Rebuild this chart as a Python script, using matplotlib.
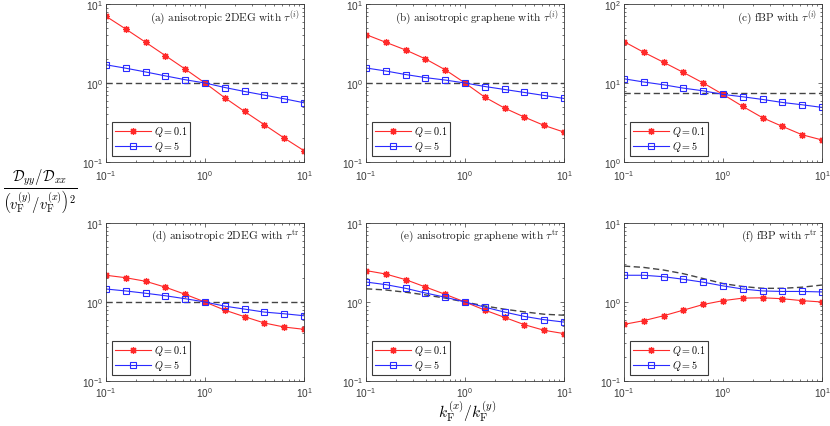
import numpy as np
import matplotlib
matplotlib.use('Agg')
from matplotlib import pyplot as plt
from matplotlib.ticker import LogLocator, NullFormatter

plt.rcParams['font.family'] = 'Liberation Sans'
plt.rcParams['mathtext.fontset'] = 'custom'
plt.rcParams['mathtext.rm'] = 'Liberation Sans'
plt.rcParams['mathtext.it'] = 'Liberation Sans:italic'
plt.rcParams['mathtext.bf'] = 'Liberation Sans:bold'

# k_F^(x)/k_F^(y) grid
k_ratio = [0.1, 0.158, 0.251, 0.398, 0.631, 1.0, 1.585, 2.512, 3.981, 6.310, 10.0]

# (a) anisotropic 2DEG, tau^(i)
a_q01 = [6.99, 4.83, 3.28, 2.22, 1.50, 1.0, 0.65, 0.436, 0.296, 0.201, 0.139]
a_q5 = [1.70, 1.54, 1.38, 1.23, 1.10, 1.0, 0.877, 0.781, 0.702, 0.631, 0.562]
# (b) anisotropic graphene, tau^(i)
b_q01 = [4.10, 3.28, 2.62, 2.02, 1.47, 1.0, 0.662, 0.481, 0.370, 0.290, 0.239]
b_q5 = [1.55, 1.42, 1.28, 1.17, 1.09, 1.0, 0.903, 0.828, 0.759, 0.695, 0.637]
# (c) fBP, tau^(i)
c_q01 = [33.4, 24.5, 18.3, 13.6, 10.0, 7.17, 5.05, 3.63, 2.82, 2.21, 1.90]
c_q5 = [11.3, 10.3, 9.49, 8.61, 7.96, 7.17, 6.69, 6.19, 5.67, 5.30, 4.91]
# (d) anisotropic 2DEG, tau^tr
d_q01 = [2.18, 2.03, 1.83, 1.54, 1.25, 1.0, 0.789, 0.651, 0.542, 0.482, 0.451]
d_q5 = [1.46, 1.38, 1.29, 1.20, 1.10, 1.0, 0.886, 0.813, 0.745, 0.710, 0.670]
# (e) anisotropic graphene, tau^tr
e_q01 = [2.50, 2.26, 1.92, 1.55, 1.25, 1.0, 0.79, 0.638, 0.516, 0.438, 0.398]
e_q5 = [1.79, 1.66, 1.49, 1.30, 1.15, 1.0, 0.861, 0.745, 0.657, 0.597, 0.557]
e_ref = [1.47, 1.42, 1.33, 1.23, 1.12, 1.0, 0.89, 0.81, 0.75, 0.70, 0.68]
# (f) fBP, tau^tr
f_q01 = [0.521, 0.580, 0.670, 0.789, 0.930, 1.04, 1.12, 1.13, 1.10, 1.04, 1.00]
f_q5 = [2.18, 2.18, 2.09, 1.94, 1.78, 1.60, 1.46, 1.38, 1.36, 1.36, 1.34]
f_ref = [2.85, 2.74, 2.54, 2.28, 1.98, 1.71, 1.57, 1.49, 1.49, 1.54, 1.64]

# flat reference levels for a-d
flat_ref = [1.0, 1.0, 7.45, 1.0]

titles = [r'$\mathrm{(a)\ anisotropic\ 2DEG\ with\ }\tau^{(i)}$',
          r'$\mathrm{(b)\ anisotropic\ graphene\ with\ }\tau^{(i)}$',
          r'$\mathrm{(c)\ fBP\ with\ }\tau^{(i)}$',
          r'$\mathrm{(d)\ anisotropic\ 2DEG\ with\ }\tau^{\mathrm{tr}}$',
          r'$\mathrm{(e)\ anisotropic\ graphene\ with\ }\tau^{\mathrm{tr}}$',
          r'$\mathrm{(f)\ fBP\ with\ }\tau^{\mathrm{tr}}$']

q01_all = [a_q01, b_q01, c_q01, d_q01, e_q01, f_q01]
q5_all = [a_q5, b_q5, c_q5, d_q5, e_q5, f_q5]
ref_curves = [None, None, None, None, e_ref, f_ref]
ylims = [(0.1, 10), (0.1, 10), (1, 100), (0.1, 10), (0.1, 10), (0.1, 10)]

W, H = 830, 427
fig = plt.figure(figsize=(W / 100, H / 100), dpi=100)

lefts = [106, 366, 624]
tops = [5, 224]
aw, ah = 198, 158

axc = '#3a3a3a'
asterisk = (8, 2, 0)

for i in range(6):
    r, c = divmod(i, 3)
    ax = fig.add_axes([lefts[c] / W, 1 - (tops[r] + ah) / H, aw / W, ah / H])
    ax.set_xscale('log')
    ax.set_yscale('log')
    ax.set_xlim(0.1, 10)
    ax.set_ylim(*ylims[i])

    if ref_curves[i] is None:
        ax.axhline(flat_ref[i], color='#444444', ls='--', lw=1.0, dashes=(4.5, 2.5))
    else:
        ax.plot(k_ratio, ref_curves[i], color='#444444', ls='--', lw=1.0, dashes=(4.5, 2.5))

    ax.plot(k_ratio, q01_all[i], color='#ff2a2a', lw=0.8, marker=asterisk,
            ms=5, mew=0.9, label=r'$Q = 0.1$')
    ax.plot(k_ratio, q5_all[i], color='#2a2aff', lw=0.8, marker='s',
            ms=4.5, mew=0.8, mfc='none', label=r'$Q = 5$')

    ax.text(0.975, 0.918, titles[i], transform=ax.transAxes, ha='right',
            va='center', fontsize=8.1, math_fontfamily='cm', color='#222222')

    leg = ax.legend(loc='lower left', fancybox=False, framealpha=1,
                    edgecolor=axc, handlelength=3.6, borderaxespad=0.6,
                    borderpad=0.25, labelspacing=0.12, handletextpad=0.25,
                    prop=dict(size=7.3, math_fontfamily='cm'))
    leg.get_frame().set_linewidth(0.8)

    ax.xaxis.set_major_locator(LogLocator(base=10, numticks=10))
    ax.yaxis.set_major_locator(LogLocator(base=10, numticks=10))
    ax.xaxis.set_minor_locator(LogLocator(base=10, subs=np.arange(2, 10), numticks=10))
    ax.yaxis.set_minor_locator(LogLocator(base=10, subs=np.arange(2, 10), numticks=10))
    ax.xaxis.set_minor_formatter(NullFormatter())
    ax.yaxis.set_minor_formatter(NullFormatter())
    ax.tick_params(which='both', direction='in', top=True, right=True,
                   colors=axc, labelsize=7.3, width=0.5)
    ax.tick_params(which='major', length=3)
    ax.tick_params(which='minor', length=1.6)
    ax.tick_params(axis='y', pad=2)
    ax.tick_params(axis='x', pad=4.2 if r == 0 else 3.2)
    for s in ax.spines.values():
        s.set_color(axc)
        s.set_linewidth(0.6)

fig.text(40 / W, 1 - 192 / H,
         r'$\dfrac{\mathcal{D}_{yy}/\mathcal{D}_{xx}}{\left(v_\mathrm{F}^{(y)}/v_\mathrm{F}^{(x)}\right)^2}$',
         ha='center', va='center', fontsize=10.5, math_fontfamily='cm')
fig.text((366 + 101) / W, 1 - 412 / H, r'$k_\mathrm{F}^{(x)}/k_\mathrm{F}^{(y)}$',
         ha='center', va='center', fontsize=11.2, math_fontfamily='cm')

fig.savefig('out.png', dpi=100)
